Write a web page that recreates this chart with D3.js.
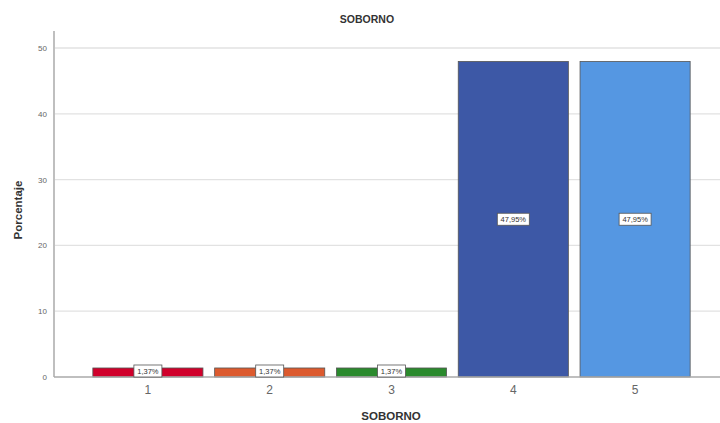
<!DOCTYPE html>
<html><head><meta charset="utf-8">
<script src="https://cdn.jsdelivr.net/npm/d3@7"></script>
<style>body{margin:0;background:#fff;} svg{display:block;}</style>
</head><body>
<svg id="chart" width="720" height="423"></svg>
<script>
const categories = ["1", "2", "3", "4", "5"];
const values = [1.37, 1.37, 1.37, 47.95, 47.95];
const labels = ["1,37%", "1,37%", "1,37%", "47,95%", "47,95%"];
const colors = ["#d0002b", "#dc5a2e", "#2a8a2d", "#3d58a6", "#5597e2"];
const yTicks = [0, 10, 20, 30, 40, 50];

const svg = d3.select("#chart");
const x = d3.scaleBand().domain(categories).range([87, 696]).paddingInner(0.096).paddingOuter(0.048);
const y = d3.scaleLinear().domain([0, 50]).range([377, 48]);

// gridlines
svg.append("g").selectAll("line").data(yTicks.filter(d => d > 0)).join("line")
  .attr("x1", 55).attr("x2", 720).attr("y1", d => y(d)).attr("y2", d => y(d))
  .attr("stroke", "#e2e2e2").attr("stroke-width", 1.3);

// bars
svg.append("g").selectAll("rect").data(values).join("rect")
  .attr("x", (d, i) => x(categories[i])).attr("width", x.bandwidth())
  .attr("y", d => y(d)).attr("height", d => y(0) - y(d))
  .attr("fill", (d, i) => colors[i]).attr("stroke", "#555").attr("stroke-width", 0.8);

// axes
const yAxis = svg.append("g").attr("transform", "translate(54,0)")
  .call(d3.axisLeft(y).tickValues(yTicks).tickSize(0).tickPadding(7));
yAxis.select(".domain").remove();
yAxis.selectAll("text").attr("font-family", "Liberation Sans, Arial, sans-serif").attr("font-size", 8).attr("fill", "#666");
svg.append("line").attr("x1", 54).attr("x2", 54).attr("y1", 31).attr("y2", 377).attr("stroke", "#aaa").attr("stroke-width", 1.5);

const xAxis = svg.append("g").attr("transform", "translate(0,377)")
  .call(d3.axisBottom(x).tickSize(0).tickPadding(8));
xAxis.select(".domain").remove();
xAxis.selectAll("text").attr("font-family", "Liberation Sans, Arial, sans-serif").attr("font-size", 12).attr("fill", "#666");
svg.append("line").attr("x1", 54).attr("x2", 720).attr("y1", 377).attr("y2", 377).attr("stroke", "#aaa").attr("stroke-width", 1.5);

// value labels
const lg = svg.append("g").selectAll("g").data(values).join("g")
  .attr("transform", (d, i) => `translate(${x(categories[i]) + x.bandwidth()/2},${d > 10 ? y(d/2) : y(0) - 6})`);
lg.append("rect").attr("x", (d, i) => labels[i].length > 5 ? -16 : -14).attr("y", -6)
  .attr("width", (d, i) => labels[i].length > 5 ? 32 : 28).attr("height", 12)
  .attr("fill", "#fff").attr("stroke", "#555").attr("stroke-width", 0.8);
lg.append("text").text((d, i) => labels[i]).attr("text-anchor", "middle").attr("dy", "0.35em")
  .attr("font-family", "Liberation Sans, Arial, sans-serif").attr("font-size", 7.5).attr("fill", "#333");

// titles
const bold = "Liberation Sans, Arial, sans-serif";
svg.append("text").text("SOBORNO").attr("x", 367).attr("y", 23).attr("text-anchor", "middle")
  .attr("font-family", bold).attr("font-weight", "bold").attr("font-size", 10.5).attr("fill", "#333");
svg.append("text").text("SOBORNO").attr("x", 391).attr("y", 420).attr("text-anchor", "middle")
  .attr("font-family", bold).attr("font-weight", "bold").attr("font-size", 11.5).attr("fill", "#333");
svg.append("text").text("Porcentaje").attr("transform", "translate(22,210) rotate(-90)").attr("text-anchor", "middle")
  .attr("font-family", bold).attr("font-weight", "bold").attr("font-size", 11.5).attr("fill", "#333");
</script>
</body></html>
